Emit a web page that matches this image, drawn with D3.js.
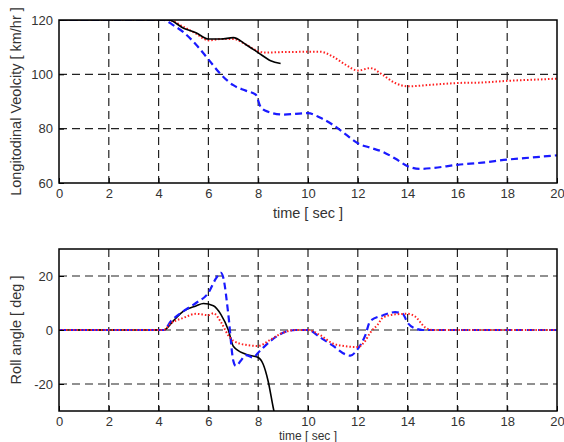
<!DOCTYPE html>
<html>
<head>
<meta charset="utf-8">
<script src="https://cdn.jsdelivr.net/npm/d3@7.9.0/dist/d3.min.js"></script>
<style>
  body { margin: 0; background: #fff; }
  svg text { font-family: "Liberation Sans", Arial, sans-serif; fill: #333; }
</style>
</head>
<body>
<svg id="chart" width="564" height="442"></svg>
<script>
// ---- data ----
const xTicks = [0, 2, 4, 6, 8, 10, 12, 14, 16, 18, 20];
const velTicks = [60, 80, 100, 120];
const rollTicks = [-20, 0, 20];

// longitudinal velocity [km/hr]
const velBlack = [[0,120],[4.4,120],[5,117],[5.5,115.3],[6,113],[6.5,113],[7,113.5],[7.5,111],[8,108],[8.5,105],[8.9,104]];
const velRed = [[0,120],[4.4,120],[5,117.5],[5.5,115],[6,112.5],[6.5,113],[7,113],[7.5,111],[8,108.5],[8.3,108],[9,108.2],[10.5,108.3],[11,106.5],[11.5,103.6],[12,101.4],[12.5,102.3],[13,99.8],[13.5,96.8],[14,95.6],[15,96.2],[16,96.8],[17,97],[18,97.6],[19,98],[20,98.4]];
const velBlue = [[0,120],[4.2,120],[4.6,118],[5,115.5],[5.5,111],[6,105.5],[6.5,100],[7,96],[7.5,94],[7.9,92.5],[8.1,88],[8.4,86.2],[9,85.2],[10,85.7],[10.5,84],[11,81.4],[11.5,78],[12,74.6],[12.5,73],[13,71.5],[13.5,69],[14,66.2],[14.5,65.2],[15,65.5],[16,66.7],[17,67.5],[18,68.6],[19,69.4],[20,70.2]];

// roll angle [deg]
const rollBlack = [[0,0],[4.2,0],[4.6,3.5],[5,7],[5.5,8.9],[5.8,9.8],[6.2,9],[6.5,5.8],[6.8,0],[7,-6],[7.5,-9],[8,-10.2],[8.2,-12.7],[8.4,-19],[8.6,-28.6],[8.7,-33]];
const rollBlue = [[0,0],[4.2,0],[4.5,3.3],[5,7],[5.5,10],[6,13.8],[6.3,19],[6.5,21.2],[6.6,19.3],[6.8,5.8],[7,-11.4],[7.1,-13.3],[7.3,-11.4],[7.5,-9.3],[7.8,-10.2],[8,-8.4],[8.5,-4],[9,-1],[9.5,0],[10,0],[10.5,-2.8],[11,-5.8],[11.5,-9],[11.7,-9.5],[12,-7],[12.3,-2],[12.5,3.3],[13,5.4],[13.5,6.6],[13.8,6],[14,2.7],[14.3,0.6],[14.6,0],[20,0]];
const rollRed = [[0,0],[4.2,0],[4.5,2.5],[5,4.5],[5.5,6],[6,5.5],[6.2,6.2],[6.5,3],[6.8,-2],[7,-4],[7.5,-5.5],[8,-5.9],[8.5,-3.5],[9,-1],[9.5,0],[10,0],[10.5,-2],[11,-5],[11.5,-6],[12,-6.3],[12.3,-4],[12.5,-1],[12.8,2],[13,4.5],[13.5,5.8],[14,6],[14.3,5],[14.7,1],[15,0],[20,0]];

const svg = d3.select('#chart');

function panel(top, bottom, yDomain, yTicks, yLabel, labelY, labelSize, series) {
  const x = d3.scaleLinear().domain([0, 20]).range([59, 557]);
  const y = d3.scaleLinear().domain(yDomain).range([bottom, top]);
  const g = svg.append('g');

  const clipId = 'clip' + top;
  g.append('clipPath').attr('id', clipId)
    .append('rect').attr('x', 59).attr('y', top).attr('width', 498).attr('height', bottom - top);

  // dashed grid
  g.selectAll('.vg').data(xTicks.slice(1, -1)).join('line')
    .attr('x1', d => x(d)).attr('x2', d => x(d))
    .attr('y1', top).attr('y2', bottom)
    .attr('stroke', '#222').attr('stroke-width', 1.2).attr('stroke-dasharray', '8,5');
  g.selectAll('.hg').data(yTicks.filter(d => d > yDomain[0] && d < yDomain[1])).join('line')
    .attr('x1', 59).attr('x2', 557)
    .attr('y1', d => y(d)).attr('y2', d => y(d))
    .attr('stroke', '#222').attr('stroke-width', 1.2).attr('stroke-dasharray', '8,5');

  // series
  const line = d3.line().x(d => x(d[0])).y(d => y(d[1])).curve(d3.curveMonotoneX);
  const lines = g.append('g').attr('clip-path', `url(#${clipId})`);
  series.forEach(s => {
    lines.append('path').attr('d', line(s.data))
      .attr('fill', 'none').attr('stroke', s.color)
      .attr('stroke-width', s.width).attr('stroke-dasharray', s.dash);
  });

  // axes (ticks point inward)
  g.append('g').attr('transform', `translate(0,${bottom})`)
    .call(d3.axisBottom(x).tickValues(xTicks).tickSize(-5).tickPadding(6).tickFormat(d => String(d)))
    .call(a => a.select('.domain').remove());
  g.append('g').attr('transform', 'translate(59,0)')
    .call(d3.axisLeft(y).tickValues(yTicks).tickSize(-5).tickPadding(6).tickFormat(d => String(d)))
    .call(a => a.select('.domain').remove());
  g.selectAll('.tick line').attr('stroke', '#000');
  g.selectAll('.tick text').style('font-size', '13px').attr('fill', '#333')
    .style('font-family', '"Liberation Sans", Arial, sans-serif');

  g.append('rect').attr('x', 59).attr('y', top).attr('width', 498).attr('height', bottom - top)
    .attr('fill', 'none').attr('stroke', '#000').attr('stroke-width', 1.5);

  g.append('text').attr('x', 308).attr('y', labelY).attr('text-anchor', 'middle')
    .style('font-size', labelSize).text('time [ sec ]');
  g.append('text').attr('transform', `translate(21,${(top + bottom) / 2}) rotate(-90)`)
    .attr('text-anchor', 'middle').style('font-size', '14.5px').text(yLabel);
}

panel(20, 183, [60, 120], velTicks, 'Longitodinal Veolcity [ km/hr ]', 218, '14.5px', [
  { data: velRed, color: '#ff2020', width: 2, dash: '1.5,2' },
  { data: velBlue, color: '#1a1aff', width: 2.2, dash: '7,4' },
  { data: velBlack, color: '#000', width: 1.6, dash: null }
]);

panel(249, 411, [-30, 30], rollTicks, 'Roll angle [ deg ]', 440, '12px', [
  { data: rollBlack, color: '#000', width: 1.6, dash: null },
  { data: rollBlue, color: '#1a1aff', width: 2.2, dash: '7,4' },
  { data: rollRed, color: '#ff2020', width: 2, dash: '1.5,2' }
]);
</script>
</body>
</html>
